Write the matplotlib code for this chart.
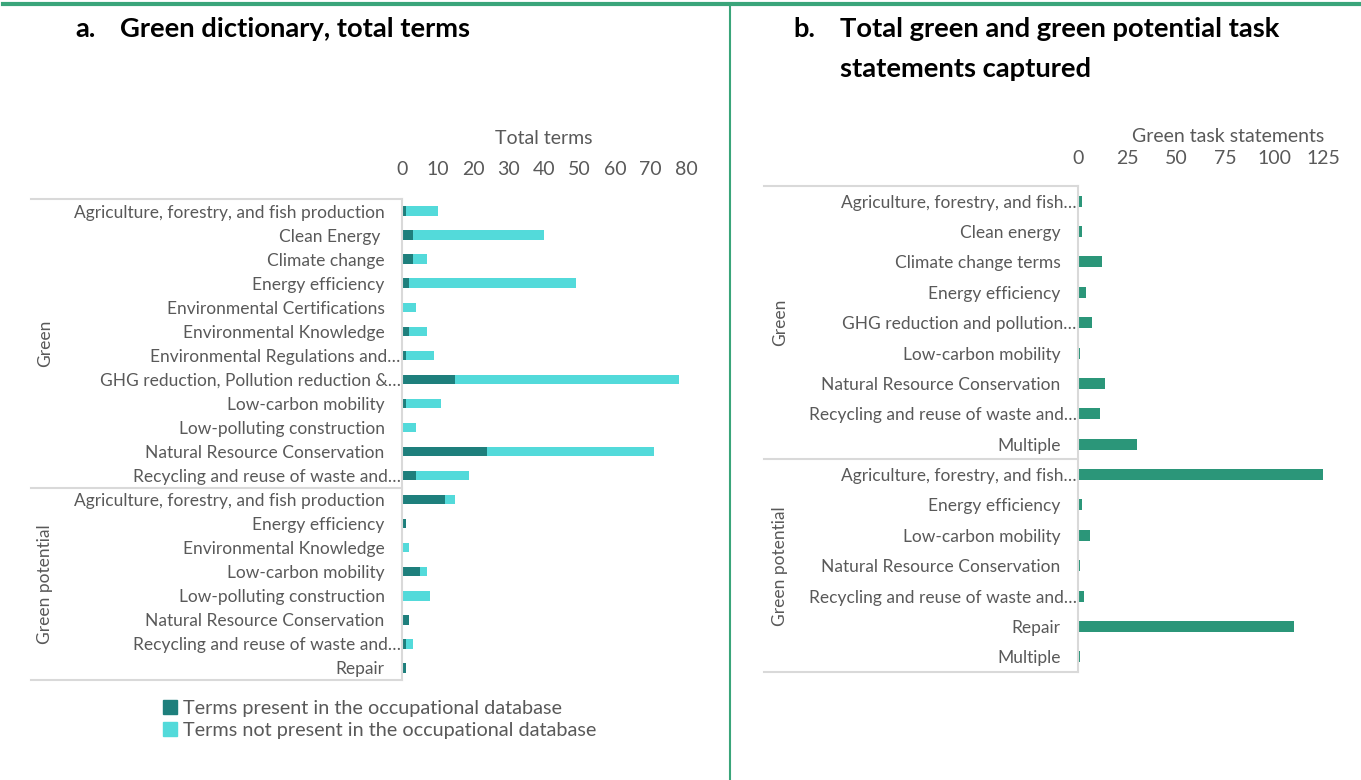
import numpy as np
import matplotlib.pyplot as plt
from matplotlib.transforms import blended_transform_factory, offset_copy
from matplotlib.lines import Line2D
from matplotlib.patches import Patch

##################
# Data
##################

# panel a: green dictionary
terms_green_cats = ['Agriculture, forestry, and fish production', 'Clean Energy ', 'Climate change',
                    'Energy efficiency', 'Environmental Certifications', 'Environmental Knowledge',
                    'Environmental Regulations and…', 'GHG reduction, Pollution reduction &…',
                    'Low-carbon mobility', 'Low-polluting construction', 'Natural Resource Conservation',
                    'Recycling and reuse of waste and…']
terms_green_present = [1, 3, 3, 2, 0, 2, 1, 15, 1, 0, 24, 4]
terms_green_absent = [9, 37, 4, 47, 4, 5, 8, 63, 10, 4, 47, 15]

terms_pot_cats = ['Agriculture, forestry, and fish production', 'Energy efficiency',
                  'Environmental Knowledge', 'Low-carbon mobility', 'Low-polluting construction',
                  'Natural Resource Conservation', 'Recycling and reuse of waste and…', 'Repair']
terms_pot_present = [12, 1, 0, 5, 0, 2, 1, 1]
terms_pot_absent = [3, 0, 2, 2, 8, 0, 2, 0]

# panel b: task statements
task_green_cats = ['Agriculture, forestry, and fish…', 'Clean energy', 'Climate change terms',
                   'Energy efficiency', 'GHG reduction and pollution…', 'Low-carbon mobility',
                   'Natural Resource Conservation', 'Recycling and reuse of waste and…', 'Multiple']
task_green_vals = [2, 2, 12, 4, 7, 1, 14, 11, 30]

task_pot_cats = ['Agriculture, forestry, and fish…', 'Energy efficiency', 'Low-carbon mobility',
                 'Natural Resource Conservation', 'Recycling and reuse of waste and…', 'Repair',
                 'Multiple']
task_pot_vals = [125, 2, 6, 1, 3, 110, 1]

terms_ticks = [0, 10, 20, 30, 40, 50, 60, 70, 80]
task_ticks = [0, 25, 50, 75, 100, 125]

##################
# Style
##################

plt.rcParams['font.family'] = ['Lato', 'DejaVu Sans']
textcolor = '#595959'
linecolor = '#d9d9d9'
dark_teal = '#1e7f7c'
light_teal = '#53dada'
task_green = '#2b9679'
rule_green = '#3aa57a'

W, H = 1361, 780
fig = plt.figure(figsize=(W / 100, H / 100), dpi=100, facecolor='white')


def px_box(x0, y0, x1, y1):
    # pixel box (top-left origin) -> figure fraction rect
    return [x0 / W, 1 - y1 / H, (x1 - x0) / W, (y1 - y0) / H]


def setup_axis(ax, cats, groups, xmax, ticks, xlabel, line_x0, group_x, label_xy, tick_pad):
    n = len(cats)
    ax.set_ylim(n - 0.5, -0.5)
    ax.set_xlim(0, xmax)
    ax.set_yticks([])

    # category labels: truncated ones (with ellipsis) run a bit closer to the axis
    lab_tr = blended_transform_factory(ax.transAxes, ax.transData)
    for i, cat in enumerate(cats):
        dx = -0.9 if cat.endswith('…') else -12.5
        ax.text(0, i, cat, transform=offset_copy(lab_tr, fig=fig, x=dx, y=0, units='points'),
                ha='right', va='center_baseline', fontsize=12.5, color=textcolor)

    ax.xaxis.tick_top()
    ax.set_xticks(ticks)
    ax.set_xticklabels([str(t) for t in ticks], fontsize=14, color=textcolor)
    ax.tick_params(length=0)
    ax.tick_params(axis='x', pad=tick_pad)
    ax.text(label_xy[0], label_xy[1], xlabel, transform=ax.transAxes, ha='center', va='center',
            fontsize=14, color=textcolor)
    for s in ['top', 'right', 'bottom']:
        ax.spines[s].set_visible(False)
    ax.spines['left'].set_color(linecolor)
    ax.spines['left'].set_linewidth(1.5)

    # group separators and labels
    tr = blended_transform_factory(fig.transFigure, ax.transData)
    ax_left = ax.get_position().x0
    start = -0.5
    for name, size in groups:
        ax.add_line(Line2D([line_x0, ax_left], [start, start], transform=tr,
                           color=linecolor, lw=1.5, clip_on=False))
        ax.text(group_x, start + size / 2, name, transform=tr, rotation=90,
                ha='center', va='center', fontsize=12.5, color=textcolor)
        start += size
    ax.add_line(Line2D([line_x0, ax_left], [start, start], transform=tr,
                       color=linecolor, lw=1.5, clip_on=False))


##################
# Panel a
##################

ax1 = fig.add_axes(px_box(402, 199, 686, 680))
cats_a = terms_green_cats + terms_pot_cats
present = np.array(terms_green_present + terms_pot_present)
absent = np.array(terms_green_absent + terms_pot_absent)
y_a = np.arange(len(cats_a))
ax1.barh(y_a, present, height=0.39, color=dark_teal)
ax1.barh(y_a, absent, left=present, height=0.39, color=light_teal)
setup_axis(ax1, cats_a, [('Green', len(terms_green_cats)), ('Green potential', len(terms_pot_cats))],
           80, terms_ticks, 'Total terms', 31 / W, 45 / W, (0.5, 1 + 60 / 481), 15)

fig.legend([Patch(color=dark_teal), Patch(color=light_teal)],
           ['Terms present in the occupational database', 'Terms not present in the occupational database'],
           loc='upper left', bbox_to_anchor=(155 / W, 1 - 692 / H), frameon=False, fontsize=14.3,
           handlelength=0.7, handleheight=0.7, handletextpad=0.3, labelspacing=0.25,
           labelcolor=textcolor, borderaxespad=0)

##################
# Panel b
##################

ax2 = fig.add_axes(px_box(1078, 186, 1323, 672))
cats_b = task_green_cats + task_pot_cats
vals_b = task_green_vals + task_pot_vals
ax2.barh(np.arange(len(cats_b)), vals_b, height=0.36, color=task_green)
setup_axis(ax2, cats_b, [('Green', len(task_green_cats)), ('Green potential', len(task_pot_cats))],
           125, task_ticks, 'Green task statements', 764 / W, 780 / W,
           ((1228 - 1078) / 245, 1 + 49 / 486), 14)

##################
# Titles and rules
##################

fig.add_artist(Line2D([3 / W, 1], [1 - 4 / H, 1 - 4 / H], color=rule_green, lw=3))
fig.add_artist(Line2D([730 / W, 730 / W], [0, 1 - 4 / H], color=rule_green, lw=1.5))

tfont = dict(fontsize=19.7, fontweight='bold', color='black', va='center')
fig.text(75 / W, 1 - 29 / H, 'a.', **tfont)
fig.text(120 / W, 1 - 29 / H, 'Green dictionary, total terms', **tfont)
fig.text(793 / W, 1 - 29 / H, 'b.', **tfont)
fig.text(840 / W, 1 - 29 / H, 'Total green and green potential task', **tfont)
fig.text(840 / W, 1 - 69 / H, 'statements captured', **tfont)

plt.savefig('out.png', dpi=100, facecolor='white')
